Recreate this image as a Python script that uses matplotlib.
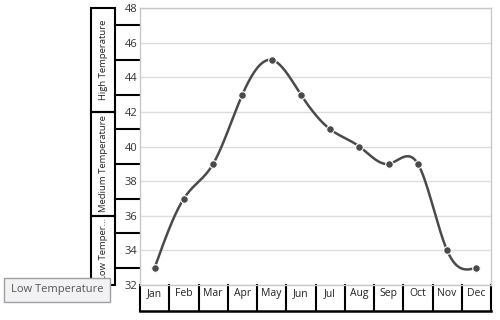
import numpy as np
import matplotlib
matplotlib.use("Agg")
import matplotlib.pyplot as plt
from matplotlib.patches import Rectangle
from matplotlib.transforms import blended_transform_factory

plt.rcParams['font.family'] = ['Open Sans', 'DejaVu Sans']

months = ["Jan", "Feb", "Mar", "Apr", "May", "Jun", "Jul", "Aug", "Sep", "Oct", "Nov", "Dec"]
temps = [33, 37, 39, 43, 45, 43, 41, 40, 39, 39, 34, 33]
y_ticks = [32, 34, 36, 38, 40, 42, 44, 46, 48]
level_labels = ["High Temperature", "Medium Temperature", "Low Temper..."]
level_ranges = [(42, 48), (36, 42), (32, 36)]
tooltip_text = "Low Temperature"


def natural_spline(y, n_sub=30):
    y = np.asarray(y, dtype=float)
    n = len(y)
    A = np.zeros((n, n))
    b = np.zeros(n)
    A[0, 0] = 1
    A[-1, -1] = 1
    for i in range(1, n - 1):
        A[i, i - 1] = 1
        A[i, i] = 4
        A[i, i + 1] = 1
        b[i] = 6 * (y[i + 1] - 2 * y[i] + y[i - 1])
    M = np.linalg.solve(A, b)
    xs, ys = [], []
    for i in range(n - 1):
        t = np.linspace(0, 1, n_sub, endpoint=(i == n - 2))
        a = 1 - t
        seg = a * y[i] + t * y[i + 1] + ((a ** 3 - a) * M[i] + (t ** 3 - t) * M[i + 1]) / 6
        xs.append(i + t)
        ys.append(seg)
    return np.concatenate(xs), np.concatenate(ys)


fig = plt.figure(figsize=(5, 3.2), dpi=100)
ax = fig.add_axes([0.28, 0.109, 0.702, 0.866])

x = np.arange(len(months))
sx, sy = natural_spline(temps)
line_color = "#4a4a4a"
ax.plot(sx, sy, color=line_color, lw=1.8, zorder=3, solid_capstyle='round')
ax.plot(x, temps, 'o', color=line_color, ms=5.5, mec='white', mew=0.8, zorder=4)

ax.set_xlim(-0.5, len(months) - 0.5)
ax.set_ylim(32, 48)
ax.set_yticks(y_ticks)
ax.set_yticklabels([str(v) for v in y_ticks], fontsize=8, color="#333333")
ax.tick_params(axis='y', length=0, pad=2)
ax.set_xticks([])
ax.yaxis.grid(True, color="#dddddd", lw=1)
ax.set_axisbelow(True)
for s in ax.spines.values():
    s.set_color("#c8c8c8")
    s.set_linewidth(1)

# x-axis category boxes
tx = blended_transform_factory(ax.transData, ax.transAxes)
box_bottom = -0.094
for i in range(len(months) + 1):
    ax.plot([i - 0.5, i - 0.5], [0, box_bottom], transform=tx, color='black', lw=1.5, clip_on=False)
ax.plot([-0.5, len(months) - 0.5], [box_bottom, box_bottom], transform=tx, color='black', lw=1.8, clip_on=False)
for i, m in enumerate(months):
    ax.text(i, -0.032, m, transform=tx, ha='center', va='center', fontsize=7.5, color="#222222")

# y-axis cells
ty = blended_transform_factory(ax.transAxes, ax.transData)
inner_x = -0.0712
outer_x = -0.1396
for v in [33, 35, 37, 39, 41, 43, 45, 47]:
    ax.plot([inner_x, 0], [v, v], transform=ty, color='black', lw=1.5, clip_on=False)
for (lo, hi), lab in zip(level_ranges, level_labels):
    ax.add_patch(Rectangle((outer_x, lo), inner_x - outer_x, hi - lo, transform=ty,
                           fill=False, ec='black', lw=1.5, clip_on=False))
    if lab.endswith("..."):
        ax.text((outer_x + inner_x) / 2, hi - 0.1, lab, transform=ty, rotation=90,
                ha='center', va='top', fontsize=6.8, color="#222222", clip_on=False)
    else:
        ax.text((outer_x + inner_x) / 2, (lo + hi) / 2, lab, transform=ty, rotation=90,
                ha='center', va='center', fontsize=6.8, color="#222222", clip_on=False)

# tooltip (drawn above everything)
fig.add_artist(Rectangle((0.008, 0.056), 0.212, 0.075, transform=fig.transFigure,
                         fc="#f2f2f4", ec="#a0a0a0", lw=1, zorder=10))
fig.text(0.114, 0.094, tooltip_text, ha='center', va='center', fontsize=8, color="#555555", zorder=11)

fig.savefig("out.png", dpi=100)
